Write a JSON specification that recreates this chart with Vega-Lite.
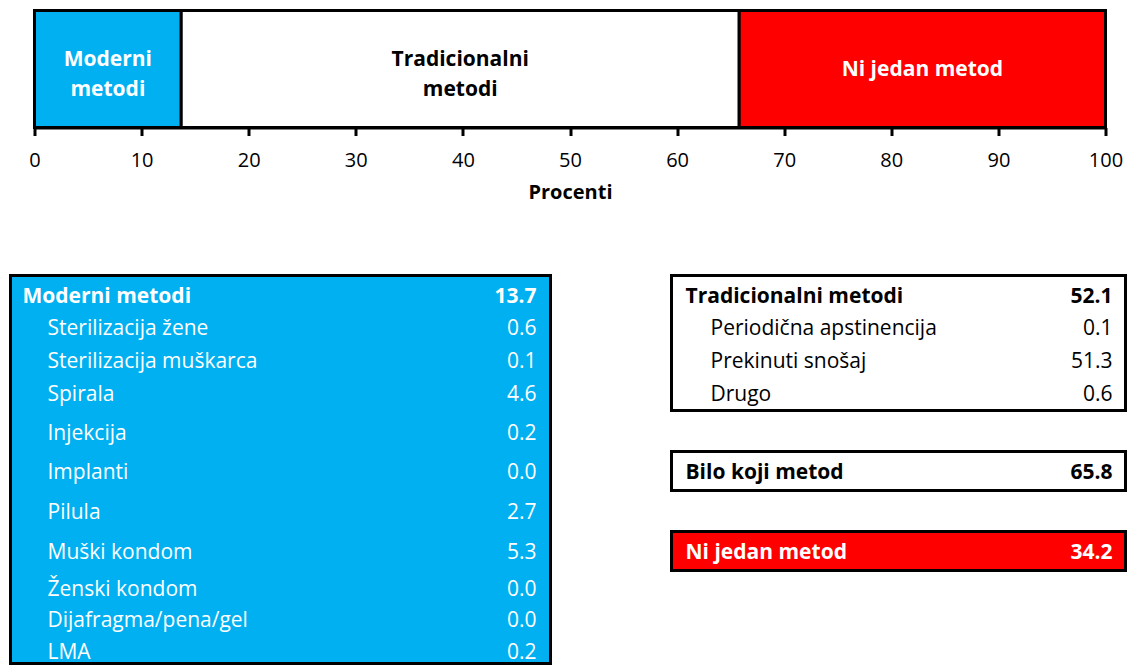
{
  "$schema": "https://vega.github.io/schema/vega-lite/v6.json",
  "padding": {"left": 8.5, "top": 8.5, "right": 0, "bottom": 0},
  "background": "white",
  "config": {"view": {"stroke": null}, "font": "Open Sans", "text": {"font": "Open Sans"}},
  "datasets": {
    "pregled": [
      {"grupa": "Moderni metodi", "oznaka": ["Moderni", "metodi"], "procenat": 13.7, "redosled": 1},
      {"grupa": "Tradicionalni metodi", "oznaka": ["Tradicionalni", "metodi"], "procenat": 52.1, "redosled": 2},
      {"grupa": "Ni jedan metod", "oznaka": "Ni jedan metod", "procenat": 34.2, "redosled": 3}
    ],
    "moderni": [
      {"metod": "Moderni metodi", "vrednost": 13.7, "nivo": "zaglavlje"},
      {"metod": "Sterilizacija žene", "vrednost": 0.6, "nivo": "stavka"},
      {"metod": "Sterilizacija muškarca", "vrednost": 0.1, "nivo": "stavka"},
      {"metod": "Spirala", "vrednost": 4.6, "nivo": "stavka"},
      {"metod": "Injekcija", "vrednost": 0.2, "nivo": "stavka"},
      {"metod": "Implanti", "vrednost": 0.0, "nivo": "stavka"},
      {"metod": "Pilula", "vrednost": 2.7, "nivo": "stavka"},
      {"metod": "Muški kondom", "vrednost": 5.3, "nivo": "stavka"},
      {"metod": "Ženski kondom", "vrednost": 0.0, "nivo": "stavka"},
      {"metod": "Dijafragma/pena/gel", "vrednost": 0.0, "nivo": "stavka"},
      {"metod": "LMA", "vrednost": 0.2, "nivo": "stavka"}
    ],
    "tradicionalni": [
      {"metod": "Tradicionalni metodi", "vrednost": 52.1, "nivo": "zaglavlje"},
      {"metod": "Periodična apstinencija", "vrednost": 0.1, "nivo": "stavka"},
      {"metod": "Prekinuti snošaj", "vrednost": 51.3, "nivo": "stavka"},
      {"metod": "Drugo", "vrednost": 0.6, "nivo": "stavka"}
    ],
    "bilo": [
      {"metod": "Bilo koji metod", "vrednost": 65.8, "nivo": "zaglavlje"}
    ],
    "nijedan": [
      {"metod": "Ni jedan metod", "vrednost": 34.2, "nivo": "zaglavlje"}
    ]
  },
  "vconcat": [
    {
      "width": 1114,
      "height": 117,
      "data": {"name": "pregled"},
      "transform": [
        {"stack": "procenat", "groupby": [], "sort": [{"field": "redosled", "order": "ascending"}], "as": ["od", "do"]},
        {"calculate": "(datum.od + datum.do) / 2", "as": "sredina"}
      ],
      "layer": [
        {
          "mark": {"type": "rect", "stroke": "#000000", "strokeWidth": 3},
          "encoding": {
            "x": {
              "field": "od", "type": "quantitative",
              "scale": {"domain": [0, 100], "range": [24, 1095], "nice": false, "zero": false},
              "axis": {
                "values": [0, 10, 20, 30, 40, 50, 60, 70, 80, 90, 100],
                "title": "Procenti", "grid": false,
                "domainColor": "#000000", "domainWidth": 3,
                "tickColor": "#000000", "tickWidth": 3, "tickSize": 8,
                "labelFont": "Open Sans", "labelFontSize": 20, "labelColor": "#000000",
                "labelPadding": 15, "labelFlush": false, "labelOverlap": false,
                "titleFont": "Open Sans", "titleFontSize": 20, "titleFontWeight": "bold", "titleColor": "#000000",
                "titlePadding": 12
              }
            },
            "x2": {"field": "do"},
            "fill": {
              "field": "grupa", "type": "nominal",
              "scale": {"domain": ["Moderni metodi", "Tradicionalni metodi", "Ni jedan metod"], "range": ["#00B0F0", "#FFFFFF", "#FF0000"]},
              "legend": null
            }
          }
        },
        {
          "mark": {"type": "text", "fontWeight": "bold", "fontSize": 21, "lineHeight": 30, "baseline": "middle", "align": "center",
            "dy": {"expr": "isArray(datum.oznaka) ? -9 : 1"}},
          "encoding": {
            "x": {"field": "sredina", "type": "quantitative", "title": "Procenti"},
            "text": {"field": "oznaka"},
            "color": {
              "field": "grupa", "type": "nominal",
              "scale": {"domain": ["Moderni metodi", "Tradicionalni metodi", "Ni jedan metod"], "range": ["#FFFFFF", "#000000", "#FFFFFF"]},
              "legend": null
            }
          }
        }
      ]
    },
    {
      "hconcat": [
        {
          "width": 540,
          "height": 388,
          "view": {"fill": "#00B0F0", "stroke": "#000000", "strokeWidth": 3},
          "data": {"name": "moderni"},
          "transform": [
            {"calculate": "format(datum.vrednost, '.1f')", "as": "vrednost_txt"},
            {"fold": ["metod", "vrednost_txt"], "as": ["kolona", "tekst"]}
          ],
          "encoding": {
            "x": {"field": "kolona", "type": "nominal", "scale": {"type": "point", "domain": ["metod", "vrednost_txt"], "range": [12, 526], "padding": 0}, "axis": null},
            "text": {"field": "tekst"}
          },
          "layer": [
            {
              "transform": [{"filter": {"field": "metod", "oneOf": ["Moderni metodi", "Sterilizacija žene", "Sterilizacija muškarca", "Spirala"]}}],
              "mark": {"type": "text", "baseline": "middle", "fontSize": 21, "color": "#FFFFFF",
                "align": {"expr": "datum.kolona === 'metod' ? 'left' : 'right'"},
                "dx": {"expr": "datum.kolona === 'metod' && datum.nivo === 'stavka' ? 25 : 0"},
                "fontWeight": {"expr": "datum.nivo === 'zaglavlje' ? 'bold' : 'normal'"}},
              "encoding": {"y": {"field": "metod", "type": "nominal", "sort": null, "scale": {"type": "point", "range": [21, 119], "padding": 0}, "axis": null}}
            },
            {
              "transform": [{"filter": {"field": "metod", "oneOf": ["Injekcija", "Implanti", "Pilula", "Muški kondom"]}}],
              "mark": {"type": "text", "baseline": "middle", "fontSize": 21, "color": "#FFFFFF",
                "align": {"expr": "datum.kolona === 'metod' ? 'left' : 'right'"},
                "dx": {"expr": "datum.kolona === 'metod' && datum.nivo === 'stavka' ? 25 : 0"},
                "fontWeight": {"expr": "datum.nivo === 'zaglavlje' ? 'bold' : 'normal'"}},
              "encoding": {"y": {"field": "metod", "type": "nominal", "sort": null, "scale": {"type": "point", "range": [158, 277], "padding": 0}, "axis": null}}
            },
            {
              "transform": [{"filter": {"field": "metod", "oneOf": ["Ženski kondom", "Dijafragma/pena/gel", "LMA"]}}],
              "mark": {"type": "text", "baseline": "middle", "fontSize": 21, "color": "#FFFFFF",
                "align": {"expr": "datum.kolona === 'metod' ? 'left' : 'right'"},
                "dx": {"expr": "datum.kolona === 'metod' && datum.nivo === 'stavka' ? 25 : 0"},
                "fontWeight": {"expr": "datum.nivo === 'zaglavlje' ? 'bold' : 'normal'"}},
              "encoding": {"y": {"field": "metod", "type": "nominal", "sort": null, "scale": {"type": "point", "range": [314, 377], "padding": 0}, "axis": null}}
            }
          ],
          "resolve": {"scale": {"y": "independent"}}
        },
        {
          "vconcat": [
            {
              "width": 454,
              "height": 135,
              "view": {"fill": "#FFFFFF", "stroke": "#000000", "strokeWidth": 3},
              "data": {"name": "tradicionalni"},
              "transform": [
                {"calculate": "format(datum.vrednost, '.1f')", "as": "vrednost_txt"},
                {"fold": ["metod", "vrednost_txt"], "as": ["kolona", "tekst"]}
              ],
              "mark": {"type": "text", "baseline": "middle", "fontSize": 21, "color": "#000000",
                "align": {"expr": "datum.kolona === 'metod' ? 'left' : 'right'"},
                "dx": {"expr": "datum.kolona === 'metod' && datum.nivo === 'stavka' ? 25 : 0"},
                "fontWeight": {"expr": "datum.nivo === 'zaglavlje' ? 'bold' : 'normal'"}},
              "encoding": {
                "x": {"field": "kolona", "type": "nominal", "scale": {"type": "point", "domain": ["metod", "vrednost_txt"], "range": [14, 441], "padding": 0}, "axis": null},
                "y": {"field": "metod", "type": "nominal", "sort": null, "scale": {"type": "point", "range": [21, 119], "padding": 0}, "axis": null},
                "text": {"field": "tekst"}
              }
            },
            {
              "width": 454,
              "height": 39,
              "view": {"fill": "#FFFFFF", "stroke": "#000000", "strokeWidth": 3},
              "data": {"name": "bilo"},
              "transform": [
                {"calculate": "format(datum.vrednost, '.1f')", "as": "vrednost_txt"},
                {"fold": ["metod", "vrednost_txt"], "as": ["kolona", "tekst"]}
              ],
              "mark": {"type": "text", "baseline": "middle", "fontSize": 21, "color": "#000000", "fontWeight": "bold", "dy": 2,
                "align": {"expr": "datum.kolona === 'metod' ? 'left' : 'right'"}},
              "encoding": {
                "x": {"field": "kolona", "type": "nominal", "scale": {"type": "point", "domain": ["metod", "vrednost_txt"], "range": [14, 441], "padding": 0}, "axis": null},
                "text": {"field": "tekst"}
              }
            },
            {
              "width": 454,
              "height": 39,
              "view": {"fill": "#FF0000", "stroke": "#000000", "strokeWidth": 3},
              "data": {"name": "nijedan"},
              "transform": [
                {"calculate": "format(datum.vrednost, '.1f')", "as": "vrednost_txt"},
                {"fold": ["metod", "vrednost_txt"], "as": ["kolona", "tekst"]}
              ],
              "mark": {"type": "text", "baseline": "middle", "fontSize": 21, "color": "#FFFFFF", "fontWeight": "bold", "dy": 2,
                "align": {"expr": "datum.kolona === 'metod' ? 'left' : 'right'"}},
              "encoding": {
                "x": {"field": "kolona", "type": "nominal", "scale": {"type": "point", "domain": ["metod", "vrednost_txt"], "range": [14, 441], "padding": 0}, "axis": null},
                "text": {"field": "tekst"}
              }
            }
          ],
          "spacing": 37
        }
      ],
      "spacing": 117
    }
  ],
  "spacing": 71
}
